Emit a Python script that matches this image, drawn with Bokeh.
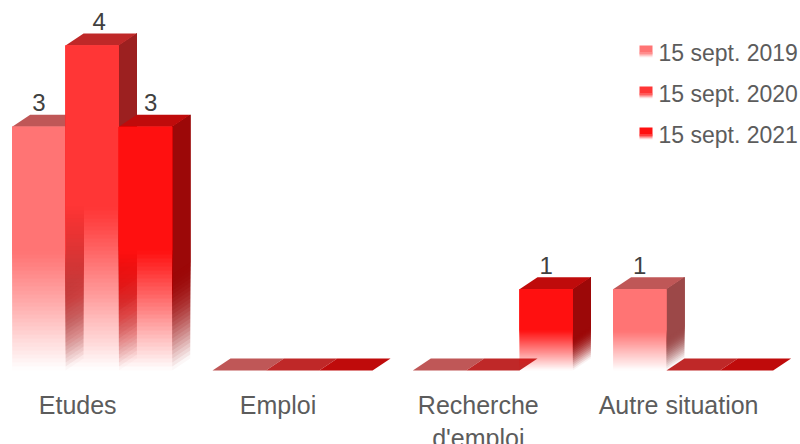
import math
from bokeh.plotting import figure
from bokeh.models import Range1d, FixedTicker, ColumnDataSource
from bokeh.core.properties import value
from bokeh.embed import file_html
from bokeh.resources import INLINE

# ---- chart data ----
categories = ["Etudes", "Emploi", "Recherche\nd'emploi", "Autre situation"]
series_names = ["15 sept. 2019", "15 sept. 2020", "15 sept. 2021"]
values_2019 = [3, 0, 0, 1]
values_2020 = [4, 0, 0, 0]
values_2021 = [3, 0, 1, 0]
face_colors = ["#ff7474", "#ff3636", "#ff1010"]
top_colors = ["#bf5757", "#bf2828", "#bf0b0b"]
side_colors = ["#9c4848", "#9c2020", "#9c0808"]
label_nudges = {(0, 0): 0, (0, 1): 7, (0, 2): 5}   # px, as printed in the reference

# ---- layout constants ----
PX_Y = 81.25      # px per unit value
PX_X = 200.3      # px per category
FRAME_W, FRAME_H = 800, 380
BASE_PX = 370     # baseline inside the frame
CAT0_PX = 77.2    # first category centre
LEFT_OFF = -65.5 / PX_X
BAR_W = 53.35 / PX_X
DX, DY = 18 / PX_X, 12 / PX_Y
TEXT = "#5c5c5c"
FONT = "Liberation Sans"

p = figure(width=800, height=444, frame_width=FRAME_W, frame_height=FRAME_H,
           output_backend="svg", toolbar_location=None, min_border=0,
           x_range=Range1d(-CAT0_PX / PX_X, (FRAME_W - CAT0_PX) / PX_X),
           y_range=Range1d((BASE_PX - FRAME_H) / PX_Y, BASE_PX / PX_Y))
p.grid.visible = False
p.yaxis.visible = False
p.outline_line_color = None
p.background_fill_color = "white"

ax = p.xaxis[0]
ax.ticker = FixedTicker(ticks=list(range(len(categories))))
ax.major_label_overrides = {i: c for i, c in enumerate(categories)}
ax.axis_line_color = None
ax.major_tick_line_color = None
ax.minor_tick_line_color = None
ax.major_label_text_color = TEXT
ax.major_label_text_font = FONT
ax.major_label_text_font_size = "25px"
ax.major_label_standoff = 4


def nested(targets):
    """Opacity of nested shapes whose stack gives the wanted opacity at each band.
    Opacity ends up in 1/255 steps, so each layer makes up for the previous rounding."""
    out = []
    kept = 1.0
    for t in targets:
        a = round(255 * max(0.0, 1 - (1 - t) / kept)) / 255
        out.append(a)
        kept *= 1 - a
    return out


all_series = [values_2019, values_2020, values_2021]
for s, vals in enumerate(all_series):
    front = dict(l=[], r=[], t=[], b=[], a=[])
    side = dict(xs=[], ys=[], a=[])
    top = dict(xs=[], ys=[])
    for g, v in enumerate(vals):
        x0 = g + LEFT_OFF + s * BAR_W
        x1 = x0 + BAR_W
        if v > 0:
            step = 2 if v == 1 else 4   # px per band of a fade
            # front face: fades linearly over the lower half
            n = int(round(v * PX_Y / 2 / step))
            levels = nested([(k + 0.5) / n for k in range(n)]) + [1.0]
            for k, al in enumerate(levels):
                front["l"].append(x0); front["r"].append(x1)
                front["b"].append(k * step / PX_Y); front["t"].append(v); front["a"].append(al)
            # side wall: fades over the lower 40 %, slowly at first
            m = int(round(v * PX_Y * 0.4 / step))
            levels = nested([math.sin(math.pi / 2 * (k + 0.5) / m) for k in range(m)]) + [1.0]
            for k, al in enumerate(levels):
                yb = k * step / PX_Y
                side["xs"].append([x1, x1 + DX, x1 + DX, x1])
                side["ys"].append([v, v + DY, yb + DY, yb])
                side["a"].append(al)
        top["xs"].append([x0, x0 + DX, x1 + DX, x1])
        top["ys"].append([v, v + DY, v + DY, v])
    p.patches("xs", "ys", source=ColumnDataSource(side), fill_color=side_colors[s],
              fill_alpha="a", line_color=None)
    p.patches("xs", "ys", source=ColumnDataSource(top), fill_color=top_colors[s], line_color=None)
    p.quad(left="l", right="r", top="t", bottom="b", source=ColumnDataSource(front),
           fill_color=face_colors[s], fill_alpha="a", line_color=None)

# value labels
lx, ly, lt, lo = [], [], [], []
for s, vals in enumerate(all_series):
    for g, v in enumerate(vals):
        if v > 0:
            lx.append(g + LEFT_OFF + (s + 0.5) * BAR_W)
            ly.append(v)
            lt.append(str(v))
            lo.append(label_nudges.get((g, s), 0))
p.text(x="x", y="y", text="t", x_offset="o", source=ColumnDataSource(dict(x=lx, y=ly, t=lt, o=lo)),
       y_offset=-24, text_align="center", text_baseline="middle",
       text_font=value(FONT), text_font_size="24px", text_color="#404040")

# legend drawn by hand, its swatches fade like the bars
LEG_X0 = (639 - CAT0_PX) / PX_X
LEG_W = 13 / PX_X
LEG_TX = (658 - CAT0_PX) / PX_X
for s, name in enumerate(series_names):
    ytop_px = 45 + s * 41
    y_top = (BASE_PX - ytop_px) / PX_Y
    y_mid = (BASE_PX - ytop_px - 7) / PX_Y
    y_end = (BASE_PX - ytop_px - 12) / PX_Y
    p.quad(left=LEG_X0, right=LEG_X0 + LEG_W, top=y_top, bottom=y_mid,
           fill_color=face_colors[s], line_color=None)
    for k, al in enumerate(nested([(k + 0.5) / 5 for k in range(5)])):
        p.quad(left=LEG_X0, right=LEG_X0 + LEG_W, top=y_mid, bottom=y_end + k / PX_Y,
               fill_color=face_colors[s], fill_alpha=al, line_color=None)
    p.text(x=[LEG_TX], y=[(BASE_PX - ytop_px - 7) / PX_Y], text=[name], text_align="left",
           text_baseline="middle", text_font=value(FONT), text_font_size="23px",
           text_color=TEXT)

open("out.html", "w").write(file_html(p, INLINE))
